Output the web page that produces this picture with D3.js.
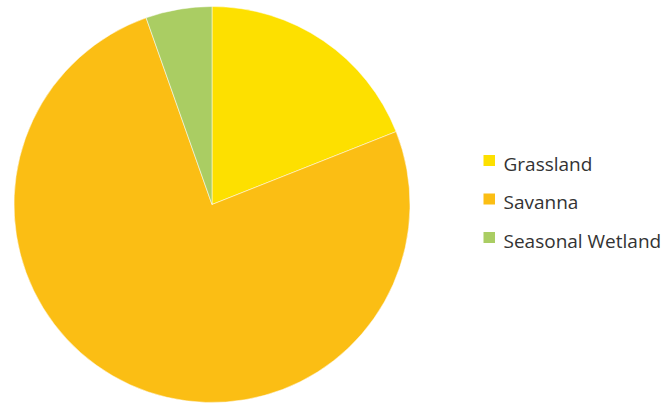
<!DOCTYPE html>
<html><head><meta charset="utf-8">
<script src="https://cdn.jsdelivr.net/npm/d3@7"></script>
<style>body{margin:0;background:#fff}svg{display:block}</style>
</head><body>
<script>
const categories = ["Grassland", "Savanna", "Seasonal Wetland"];
const values = [19.0, 75.6, 5.4];
const colors = ["#FDE000", "#FBBE14", "#AACD63"];

const W = 662, H = 403;
const svg = d3.select("body").append("svg").attr("width", W).attr("height", H);
const cx = 212, cy = 204.5, r = 198;
const pie = d3.pie().sort(null).value(d => d.v);
const arcs = pie(categories.map((c, i) => ({c, v: values[i]})));
const arc = d3.arc().innerRadius(0).outerRadius(r);
const color = d3.scaleOrdinal().domain(categories).range(colors);
svg.append("g").attr("transform", `translate(${cx},${cy})`)
  .selectAll("path").data(arcs).join("path")
  .attr("d", arc).attr("fill", d => color(d.data.c))
  .attr("stroke", "#fff").attr("stroke-width", 0.5);

const lg = svg.append("g").attr("transform", "translate(483.5,0)");
const rowY = d3.scalePoint().domain(categories).range([160.5, 237.5]);
const items = lg.selectAll("g").data(categories).join("g")
  .attr("transform", d => `translate(0,${rowY(d)})`);
items.append("rect").attr("x", 0).attr("y", -5.5).attr("width", 11.5).attr("height", 11)
  .attr("fill", d => color(d));
items.append("text").attr("x", 20).attr("y", 10).text(d => d)
  .attr("font-family", "'Open Sans', sans-serif").attr("font-size", 19)
  .attr("fill", "#333");
</script>
</body></html>
